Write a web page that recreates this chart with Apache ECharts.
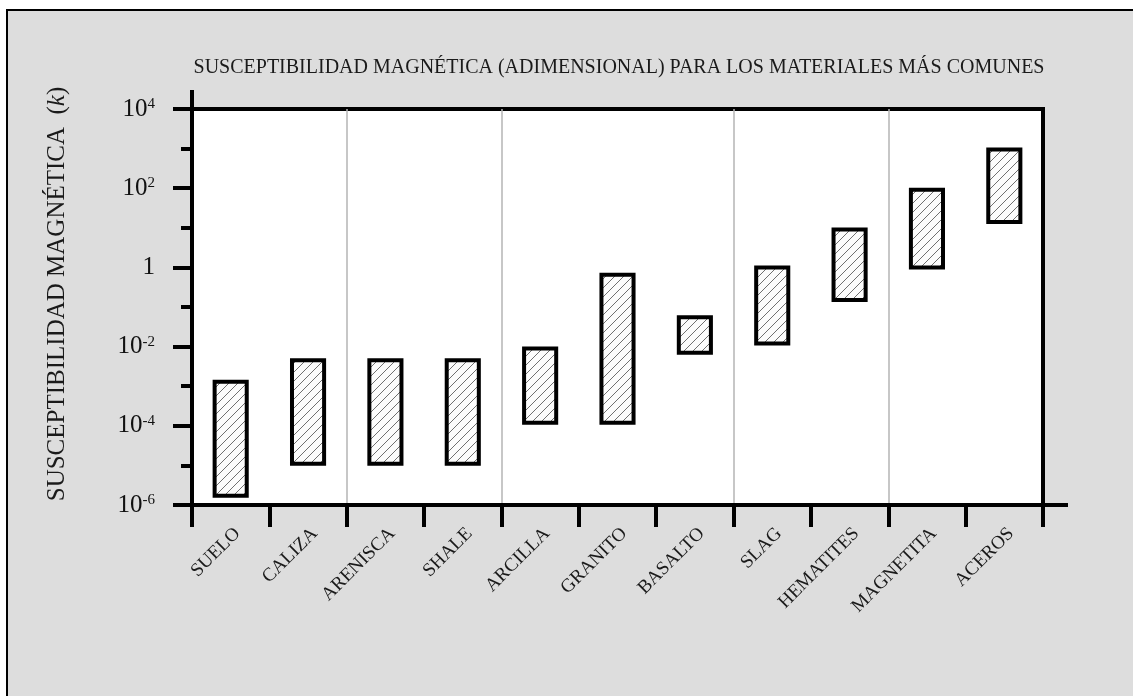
<!DOCTYPE html>
<html>
<head>
<meta charset="utf-8">
<script src="https://cdn.jsdelivr.net/npm/echarts@6/dist/echarts.min.js"></script>
<style>
  html, body { margin: 0; padding: 0; background: #fff; overflow: hidden; }
  #frame { position: absolute; left: 6px; top: 9px; width: 1200px; height: 800px;
           background: #dddddd; border-top: 2px solid #000; border-left: 2px solid #000; }
  #chart { position: absolute; left: 0; top: 0; width: 1133px; height: 696px; }
</style>
</head>
<body>
<div id="frame"></div>
<div id="chart"></div>
<script>
// Materials and their range of magnetic susceptibility k (dimensionless)
const materiales = ['SUELO', 'CALIZA', 'ARENISCA', 'SHALE', 'ARCILLA', 'GRANITO',
                    'BASALTO', 'SLAG', 'HEMATITES', 'MAGNETITA', 'ACEROS'];
const kMin = [1.7e-6, 1.1e-5, 1.1e-5, 1.1e-5, 1.2e-4, 1.2e-4, 7e-3, 0.012, 0.15, 1.0, 14];
const kMax = [1.3e-3, 4.5e-3, 4.5e-3, 4.5e-3, 9e-3, 0.65, 0.055, 1.0, 9, 92, 950];

// Decade exponents of the vertical scale (labelled every two decades)
const expMin = -6;
const expMax = 4;
// Category indices whose left boundary carries a grey separator
const separadores = [2, 4, 7, 9];

const SERIF = 'Liberation Serif';

// Diagonal hatching used to fill each range box
function hatchTile() {
  const s = 9;
  const c = document.createElement('canvas');
  c.width = s; c.height = s;
  const g = c.getContext('2d');
  g.fillStyle = '#fcfcfc';
  g.fillRect(0, 0, s, s);
  g.strokeStyle = '#707070';
  g.lineWidth = 1;
  g.beginPath();
  g.moveTo(-1, s + 1); g.lineTo(s + 1, -1);
  g.moveTo(-1, 1); g.lineTo(1, -1);
  g.moveTo(s - 1, s + 1); g.lineTo(s + 1, s - 1);
  g.stroke();
  return c;
}
const hatch = { image: hatchTile(), repeat: 'repeat' };

const rangos = materiales.map((m, i) => [i, Math.log10(kMin[i]), Math.log10(kMax[i])]);

const chart = echarts.init(document.getElementById('chart'), null, { renderer: 'canvas' });

chart.setOption({
  backgroundColor: 'transparent',
  animation: false,
  title: {
    text: 'SUSCEPTIBILIDAD MAGNÉTICA (ADIMENSIONAL) PARA LOS MATERIALES MÁS COMUNES',
    left: 614,
    top: 53,
    textAlign: 'center',
    textStyle: { fontFamily: SERIF, fontSize: 20, fontWeight: 'normal', color: '#1a1a1a' }
  },
  grid: {
    left: 192, right: 90, top: 109, bottom: 191,
    show: true, backgroundColor: '#fff', borderColor: '#000', borderWidth: 4
  },
  xAxis: {
    type: 'category',
    data: materiales,
    boundaryGap: true,
    axisLine: {
      onZero: false,
      lineStyle: { color: '#000', width: 4 },
      symbol: ['none', 'rect'], symbolSize: [4, 50]
    },
    axisTick: { show: true, interval: 0, length: 22, lineStyle: { color: '#000', width: 4 } },
    axisLabel: {
      interval: 0, rotate: 45, margin: 19, align: 'right', verticalAlign: 'top',
      fontFamily: SERIF, fontSize: 19, color: '#1a1a1a'
    },
    splitLine: {
      show: true,
      interval: (i) => separadores.includes(i),
      lineStyle: { color: '#b4b4b4', width: 1.5 }
    }
  },
  yAxis: [
    {
      type: 'value', min: expMin, max: expMax, interval: 2, position: 'left',
      axisLine: { show: true, lineStyle: { color: '#000', width: 4 }, symbol: ['none', 'rect'], symbolSize: [4, 38] },
      axisTick: { show: true, length: 19, lineStyle: { color: '#000', width: 4 } },
      splitLine: { show: false },
      axisLabel: {
        margin: 37,
        formatter: (v) => v === 0 ? '{b|1}' : '{b|10}{s|' + v + '}',
        rich: {
          b: { fontFamily: SERIF, fontSize: 25, color: '#111' },
          s: { fontFamily: SERIF, fontSize: 15, color: '#111', verticalAlign: 'top' }
        }
      },
      name: 'SUSCEPTIBILIDAD MAGNÉTICA  ({i|k})',
      nameLocation: 'middle',
      nameRotate: 90,
      nameGap: 122,
      nameTextStyle: {
        fontFamily: SERIF, fontSize: 25, color: '#1a1a1a', padding: [0, 0, 0, 26],
        rich: { i: { fontFamily: SERIF, fontSize: 25, fontStyle: 'italic', color: '#1a1a1a' } }
      }
    },
    {
      type: 'value', min: expMin, max: expMax, interval: 1, position: 'left',
      axisLine: { show: false },
      axisTick: { show: true, length: 11, lineStyle: { color: '#000', width: 4 } },
      axisLabel: { show: false },
      splitLine: { show: false }
    },
    {
      // right-hand frame of the plot
      type: 'value', min: expMin, max: expMax, position: 'right',
      axisLine: { show: true, lineStyle: { color: '#000', width: 4 } },
      axisTick: { show: false },
      axisLabel: { show: false },
      splitLine: { show: false }
    }
  ],
  series: [{
    type: 'custom',
    yAxisIndex: 0,
    data: rangos,
    encode: { x: 0, y: [1, 2] },
    renderItem: (params, api) => {
      const top = api.coord([api.value(0), api.value(2)]);
      const bottom = api.coord([api.value(0), api.value(1)]);
      const w = api.size([1, 0])[0] * 0.415;
      return {
        type: 'rect',
        shape: { x: top[0] - w / 2, y: top[1], width: w, height: bottom[1] - top[1] },
        style: { fill: hatch, stroke: '#000', lineWidth: 4 }
      };
    }
  }]
});
</script>
</body>
</html>
